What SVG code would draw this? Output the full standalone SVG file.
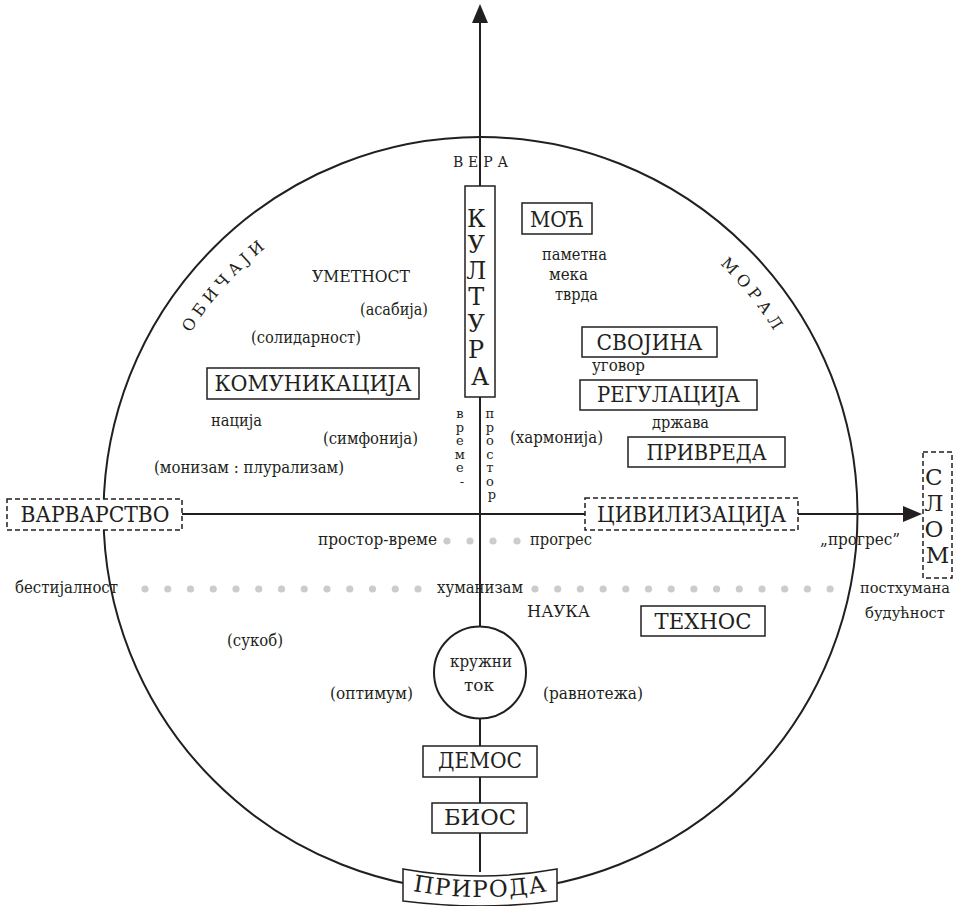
<svg xmlns="http://www.w3.org/2000/svg" width="955" height="906" viewBox="0 0 955 906">
<style>
  text { font-family: "DejaVu Serif", "Liberation Serif", serif; fill: #231f20; }
  .s { font-size: 16px; }
  .b { font-size: 23px; }
  .m { text-anchor: middle; }
  .box { fill: #ffffff; stroke: #231f20; stroke-width: 1.5; }
  .dbox { fill: #ffffff; stroke: #231f20; stroke-width: 1.5; stroke-dasharray: 5 3; }
  .ax { stroke: #231f20; stroke-width: 2; fill: none; }
  .head { fill: #231f20; }
  .dot { fill: #cccccc; }
  .arc { font-size: 16px; letter-spacing: 5px; }
</style>
<defs>
  <path id="arcObicaji" d="M 138.5 514 A 342 342 0 0 1 822.5 514"/>
  <path id="arcMoral" d="M 134.5 514 A 346 346 0 0 1 826.5 514"/>
  <path id="arcPriroda" d="M 97.5 514 A 383 383 0 0 0 863.5 514"/>
</defs>
<rect x="0" y="0" width="955" height="906" fill="#ffffff"/>

<g id="big-circle">
  <circle cx="480.5" cy="514" r="377" class="ax"/>
</g>

<g id="connectors">
  <line x1="480" y1="20" x2="480" y2="872" class="ax"/>
  <polygon points="480,4 472,23 488,23" class="head"/>
  <line x1="182" y1="514" x2="906" y2="514" class="ax"/>
  <polygon points="922,514 903,506 903,522" class="head"/>
</g>

<g id="dots">
  <circle cx="447" cy="541" r="3.6" class="dot"/>
  <circle cx="470" cy="541" r="3.6" class="dot"/>
  <circle cx="493" cy="541" r="3.6" class="dot"/>
  <circle cx="517" cy="541" r="3.6" class="dot"/>
  <circle cx="145" cy="589" r="3.6" class="dot"/>
  <circle cx="167.75" cy="589" r="3.6" class="dot"/>
  <circle cx="190.5" cy="589" r="3.6" class="dot"/>
  <circle cx="213.25" cy="589" r="3.6" class="dot"/>
  <circle cx="236" cy="589" r="3.6" class="dot"/>
  <circle cx="258.75" cy="589" r="3.6" class="dot"/>
  <circle cx="281.5" cy="589" r="3.6" class="dot"/>
  <circle cx="304.25" cy="589" r="3.6" class="dot"/>
  <circle cx="327" cy="589" r="3.6" class="dot"/>
  <circle cx="349.75" cy="589" r="3.6" class="dot"/>
  <circle cx="372.5" cy="589" r="3.6" class="dot"/>
  <circle cx="395.25" cy="589" r="3.6" class="dot"/>
  <circle cx="418" cy="589" r="3.6" class="dot"/>
  <circle cx="535" cy="589" r="3.6" class="dot"/>
  <circle cx="557.7" cy="589" r="3.6" class="dot"/>
  <circle cx="580.4" cy="589" r="3.6" class="dot"/>
  <circle cx="603.1" cy="589" r="3.6" class="dot"/>
  <circle cx="625.8" cy="589" r="3.6" class="dot"/>
  <circle cx="648.5" cy="589" r="3.6" class="dot"/>
  <circle cx="671.2" cy="589" r="3.6" class="dot"/>
  <circle cx="693.9" cy="589" r="3.6" class="dot"/>
  <circle cx="716.6" cy="589" r="3.6" class="dot"/>
  <circle cx="739.3" cy="589" r="3.6" class="dot"/>
  <circle cx="762" cy="589" r="3.6" class="dot"/>
  <circle cx="784.7" cy="589" r="3.6" class="dot"/>
  <circle cx="807.4" cy="589" r="3.6" class="dot"/>
  <circle cx="830.1" cy="589" r="3.6" class="dot"/>
</g>

<g id="arc-labels">
  <text class="arc"><textPath href="#arcObicaji" startOffset="250" text-anchor="middle">ОБИЧАЈИ</textPath></text>
  <text class="arc"><textPath href="#arcMoral" startOffset="853" text-anchor="middle">МОРАЛ</textPath></text>
  <text x="453" y="167" textLength="55" lengthAdjust="spacing" style="font-size:14px">ВЕРА</text>
</g>

<g id="kultura">
  <rect x="465" y="186" width="30" height="211" class="box"/>
  <text class="m" style="font-size:24px">
    <tspan x="480" y="227">К</tspan>
    <tspan x="480" y="253">У</tspan>
    <tspan x="480" y="279">Л</tspan>
    <tspan x="480" y="305">Т</tspan>
    <tspan x="480" y="332">У</tspan>
    <tspan x="480" y="358">Р</tspan>
    <tspan x="480" y="385">А</tspan>
  </text>
</g>

<g id="vreme-prostor" style="font-size:13px">
  <text class="m">
    <tspan x="462" y="418">в</tspan>
    <tspan x="462" y="431.5">р</tspan>
    <tspan x="462" y="445">е</tspan>
    <tspan x="462" y="458.5">м</tspan>
    <tspan x="462" y="472">е</tspan>
    <tspan x="462" y="485.5">-</tspan>
  </text>
  <text class="m">
    <tspan x="492" y="418">п</tspan>
    <tspan x="492" y="431.5">р</tspan>
    <tspan x="492" y="445">о</tspan>
    <tspan x="492" y="458.5">с</tspan>
    <tspan x="492" y="472">т</tspan>
    <tspan x="492" y="485.5">о</tspan>
    <tspan x="492" y="499">р</tspan>
  </text>
</g>

<g id="moc">
  <rect x="522" y="203" width="70" height="31" class="box"/>
  <text x="557" y="227" class="b m" textLength="54" lengthAdjust="spacingAndGlyphs">МОЋ</text>
</g>
<g id="moc-labels" class="s">
  <text x="542" y="260" textLength="65" lengthAdjust="spacingAndGlyphs">паметна</text>
  <text x="549" y="280" textLength="39" lengthAdjust="spacingAndGlyphs">мека</text>
  <text x="555" y="300" textLength="43" lengthAdjust="spacingAndGlyphs">тврда</text>
</g>

<g id="svojina">
  <rect x="582" y="327" width="135" height="30" class="box"/>
  <text x="649.5" y="350" class="b m" textLength="106" lengthAdjust="spacingAndGlyphs">СВОЈИНА</text>
</g>
<g id="ugovor"><text x="592" y="371" class="s" textLength="53" lengthAdjust="spacingAndGlyphs">уговор</text></g>
<g id="regulacija">
  <rect x="580" y="380" width="177" height="30" class="box"/>
  <text x="668.5" y="402" class="b m" textLength="143" lengthAdjust="spacingAndGlyphs">РЕГУЛАЦИЈА</text>
</g>
<g id="drzava"><text x="652" y="428" class="s" textLength="57" lengthAdjust="spacingAndGlyphs">држава</text></g>
<g id="privreda">
  <rect x="628" y="437" width="157" height="30" class="box"/>
  <text x="706.5" y="460" class="b m" textLength="120" lengthAdjust="spacingAndGlyphs">ПРИВРЕДА</text>
</g>
<g id="harmonija"><text x="510" y="443" class="s" textLength="93" lengthAdjust="spacingAndGlyphs">(хармонија)</text></g>

<g id="umetnost"><text x="312" y="282" style="font-size:16px" textLength="98" lengthAdjust="spacingAndGlyphs">УМЕТНОСТ</text></g>
<g id="asabija"><text x="360" y="315" class="s" textLength="68" lengthAdjust="spacingAndGlyphs">(асабија)</text></g>
<g id="solidarnost"><text x="251" y="343" class="s" textLength="110" lengthAdjust="spacingAndGlyphs">(солидарност)</text></g>
<g id="komunikacija">
  <rect x="207" y="368" width="212" height="31" class="box"/>
  <text x="313" y="391" class="b m" textLength="197" lengthAdjust="spacingAndGlyphs">КОМУНИКАЦИЈА</text>
</g>
<g id="nacija"><text x="211" y="426" class="s" textLength="51" lengthAdjust="spacingAndGlyphs">нација</text></g>
<g id="simfonija"><text x="323" y="444" class="s" textLength="95" lengthAdjust="spacingAndGlyphs">(симфонија)</text></g>
<g id="monizam"><text x="154" y="473" class="s" textLength="190" lengthAdjust="spacingAndGlyphs">(монизам : плурализам)</text></g>

<g id="varvarstvo">
  <rect x="7" y="499" width="175" height="31" class="dbox"/>
  <text x="95" y="522" class="b m" textLength="149" lengthAdjust="spacingAndGlyphs">ВАРВАРСТВО</text>
</g>
<g id="civilizacija">
  <rect x="585" y="498" width="213" height="32" class="dbox"/>
  <text x="691.5" y="522" class="b m" textLength="189" lengthAdjust="spacingAndGlyphs">ЦИВИЛИЗАЦИЈА</text>
</g>
<g id="slom">
  <rect x="923" y="452" width="29" height="126" class="dbox"/>
  <text class="b m">
    <tspan x="937.5" y="485">С</tspan>
    <tspan x="937.5" y="511">Л</tspan>
    <tspan x="937.5" y="537">О</tspan>
    <tspan x="937.5" y="563">М</tspan>
  </text>
</g>

<g id="prostor-vreme"><text x="318" y="545" class="s" textLength="119" lengthAdjust="spacingAndGlyphs">простор-време</text></g>
<g id="progres"><text x="530" y="545" class="s" textLength="62" lengthAdjust="spacingAndGlyphs">прогрес</text></g>
<g id="progres-q"><text x="820" y="545" class="s" textLength="80" lengthAdjust="spacingAndGlyphs">„прогрес”</text></g>

<g id="bestijalnost"><text x="15" y="593" class="s" textLength="103" lengthAdjust="spacingAndGlyphs">бестијалност</text></g>
<g id="humanizam"><text x="437" y="593" class="s" textLength="86" lengthAdjust="spacingAndGlyphs">хуманизам</text></g>
<g id="posthumana" style="font-size:15px">
  <text x="860" y="593" textLength="90" lengthAdjust="spacingAndGlyphs">постхумана</text>
  <text x="865" y="618" textLength="80" lengthAdjust="spacingAndGlyphs">будућност</text>
</g>

<g id="nauka"><text x="527" y="617" style="font-size:16px" textLength="63" lengthAdjust="spacingAndGlyphs">НАУКА</text></g>
<g id="tehnos">
  <rect x="641" y="606" width="124" height="30" class="box"/>
  <text x="703" y="629" class="b m" textLength="97" lengthAdjust="spacingAndGlyphs">ТЕХНОС</text>
</g>
<g id="sukob"><text x="227" y="646" class="s" textLength="56" lengthAdjust="spacingAndGlyphs">(сукоб)</text></g>

<g id="kruzni-tok">
  <circle cx="480" cy="672.5" r="46" class="box" style="stroke-width:2"/>
  <text x="450" y="667" class="s" textLength="62" lengthAdjust="spacingAndGlyphs">кружни</text>
  <text x="464" y="691" class="s" textLength="30" lengthAdjust="spacingAndGlyphs">ток</text>
</g>
<g id="optimum"><text x="330" y="699" class="s" textLength="83" lengthAdjust="spacingAndGlyphs">(оптимум)</text></g>
<g id="ravnoteza"><text x="543" y="699" class="s" textLength="100" lengthAdjust="spacingAndGlyphs">(равнотежа)</text></g>

<g id="demos">
  <rect x="423" y="746" width="114" height="31" class="box"/>
  <text x="480" y="768" class="b m" textLength="84" lengthAdjust="spacingAndGlyphs">ДЕМОС</text>
</g>
<g id="bios">
  <rect x="432" y="803" width="95" height="30" class="box"/>
  <text x="480" y="825" class="b m" textLength="72" lengthAdjust="spacingAndGlyphs">БИОС</text>
</g>

<g id="priroda">
  <path d="M 403 869 Q 480.5 883 557 869 L 557 901 Q 480.5 911 403 901 Z" class="box"/>
  <text style="font-size:23px;letter-spacing:1.5px"><textPath href="#arcPriroda" startOffset="50%" text-anchor="middle">ПРИРОДА</textPath></text>
</g>
</svg>
